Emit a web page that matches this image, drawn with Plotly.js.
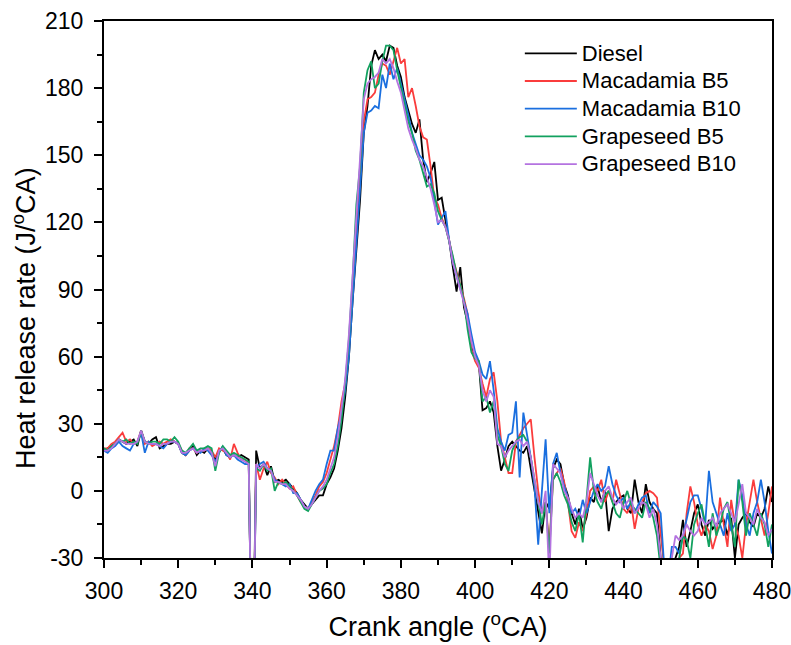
<!DOCTYPE html>
<html>
<head>
<meta charset="utf-8">
<script src="https://cdn.plot.ly/plotly-3.0.1.min.js"></script>
<style>html,body{margin:0;padding:0;background:#fff;}#chart{width:791px;height:645px;}</style>
</head>
<body>
<div id="chart"></div>
<script>
// Crank angle axis: 300 to 480 deg, one value per degree
const angleStart = 300;
const angleStep = 1;

const seriesNames = ["Diesel", "Macadamia B5", "Macadamia B10", "Grapeseed B5", "Grapeseed B10"];
const seriesColors = ["#000000", "#FA3C3C", "#1A6FDF", "#12A15F", "#B473E0"];

const xTickVals = [300, 320, 340, 360, 380, 400, 420, 440, 460, 480];
const xTickText = ["300", "320", "340", "360", "380", "400", "420", "440", "460", "480"];
const xMinorVals = [310, 330, 350, 370, 390, 410, 430, 450, 470];
const yTickVals = [-30, 0, 30, 60, 90, 120, 150, 180, 210];
const yTickText = ["-30", "0", "30", "60", "90", "120", "150", "180", "210"];
const yMinorVals = [-15, 15, 45, 75, 105, 135, 165, 195];

const xTitle = "Crank angle (<sup>o</sup>CA)";
const yTitle = "Heat release rate (J/<sup>o</sup>CA)";

const diesel = [
  18,19,20,21,23,22,21,22,23,20,
  27,22,21,23,24,19,20,21,21,22,
  21,17,16,18,20,16,18,17,19,17,
  14,18,19,16,15,16,15,16,15,14,
  -100,18,10,12,7,11,4,5,4,5,
  3,1,-1,-4,-6,-8,-6,-4,-2,-2,
  3,6,10,18,28,42,60,85,110,130,
  160,172,190,197,193,195,192,199,198,190,
  185,176,170,164,160,166,148,138,142,147,
  130,131,121,112,100,89,100,82,75,65,
  60,57,36,37,40,35,20,9,14,20,
  22,20,18,17,20,10,0,-10,-19,-5,
  -8,10,14,12,3,-2,-10,-15,-8,-17,
  -12,-3,-5,2,-5,0,-18,-8,-5,-3,
  -2,-8,-10,5,-5,-10,3,-5,-8,-10,
  -30,-40,-38,-35,-30,-25,-13,-25,-18,-10,
  -6,-15,-20,-13,-17,-15,-14,-13,-20,-12,
  -30,-15,-12,-10,-14,-16,-10,-12,-8,2,-5
];

const macadamiaB5 = [
  19,19,21,22,24,26,22,23,21,22,
  27,21,22,20,21,22,21,22,23,22,
  21,18,16,19,19,17,18,18,19,18,
  15,19,18,17,14,21,17,14,14,12,
  -100,12,5,10,13,8,6,3,5,3,
  1,2,-2,-5,-7,-8,-5,-2,2,4,
  8,14,20,28,40,48,65,90,115,140,
  165,175,176,178,186,191,190,186,192,198,
  191,193,176,180,172,163,158,157,145,131,
  128,122,118,112,104,98,93,86,79,63,
  58,55,48,42,50,53,40,22,15,8,
  8,22,25,28,30,32,15,0,-10,-5,
  -25,5,8,10,4,-5,-18,-21,-14,-18,
  -10,0,2,0,5,-5,0,-5,5,-2,
  -8,-10,-5,-17,-8,-5,-1,0,-1,-3,
  -20,-35,-40,-35,-32,-30,-28,-10,2,-5,
  -15,-20,-15,-18,-26,-20,-3,-15,-25,-4,
  -15,-20,-30,-15,-5,5,-5,-12,-20,-10,2
];

const macadamiaB10 = [
  18,17,19,20,22,20,19,18,21,22,
  26,17,22,21,21,20,19,21,22,22,
  21,17,16,18,19,18,17,19,18,16,
  13,17,20,16,15,16,14,13,12,12,
  -100,10,12,13,10,9,5,4,3,2,
  3,-1,-1,-4,-7,-8,-4,0,3,5,
  12,18,18,28,35,45,60,85,110,138,
  160,169,170,172,171,186,180,191,184,189,
  182,176,168,160,155,150,148,145,140,130,
  119,122,125,112,102,96,90,84,79,70,
  62,58,52,50,58,45,28,22,18,25,
  26,40,6,35,25,15,2,-24,0,23,
  -10,12,17,8,2,-3,-10,-8,-12,-4,
  -10,-5,0,3,0,2,11,3,-2,-5,
  -3,-8,-5,-10,-6,-3,-2,-10,-5,-7,
  -10,-35,-40,-25,-25,-28,-20,-12,-5,-2,
  -2,-8,-15,9,-5,-10,-15,-20,-10,-18,
  -15,5,-2,-15,-20,-10,-5,5,-5,-18,-28
];

const grapeseedB5 = [
  19,18,20,21,23,22,23,21,22,21,
  27,22,21,22,22,21,23,23,22,24,
  22,18,17,19,21,18,19,19,20,19,
  9,17,20,18,16,17,16,15,14,13,
  -100,10,9,12,9,10,0,4,3,4,
  2,0,-2,-5,-8,-9,-6,-3,0,1,
  3,8,12,20,32,48,68,95,128,145,
  178,188,192,180,182,192,199,199,197,188,
  180,172,165,160,152,148,142,136,137,133,
  125,121,118,112,105,97,92,85,72,62,
  59,58,40,42,35,40,25,20,12,9,
  18,22,24,25,22,15,5,-5,-15,-5,
  -28,5,8,4,-2,-6,-14,-18,-10,-23,
  -5,15,0,-5,-8,-2,0,-5,-10,-12,
  -5,0,-6,-8,-10,-12,-5,-8,-12,-20,
  -35,-40,-38,-35,-35,-30,-20,-22,-30,-15,
  -10,-6,-15,-25,-10,-20,-15,-8,-5,-15,
  -25,5,-5,-20,-10,-15,-20,-10,-15,-25,-15
];

const grapeseedB10 = [
  18,18,19,21,23,22,21,21,21,22,
  27,22,21,21,21,20,21,21,22,22,
  21,17,17,18,19,17,18,18,19,17,
  11,18,19,17,15,16,15,14,13,12,
  -100,12,10,12,10,9,4,4,3,3,
  1,0,-2,-4,-7,-8,-6,-3,0,2,
  5,10,15,24,36,50,70,95,125,150,
  175,182,184,185,187,193,191,193,189,183,
  178,170,162,157,153,148,145,140,135,128,
  120,121,118,112,102,96,90,84,76,67,
  60,56,45,40,45,42,21,20,15,18,
  20,22,23,20,22,15,5,-5,-10,0,
  -40,12,10,8,0,-3,-8,-12,-10,-12,
  -5,8,3,-2,-5,0,2,-3,-6,-4,
  -8,-5,-3,-10,-8,-5,-6,-12,-8,-15,
  -30,-40,-38,-30,-20,-22,-20,-15,-18,-20,
  -18,-12,-15,-14,-12,-16,-10,-8,-6,-10,
  -14,-6,3,-10,-12,-15,-8,-12,-14,-20,-17
];

const seriesValues = [diesel, macadamiaB5, macadamiaB10, grapeseedB5, grapeseedB10];

const traces = seriesValues.map((vals, i) => ({
  type: 'scatter',
  mode: 'lines',
  name: '<span style="font-size:22px">' + seriesNames[i] + '</span>',
  x0: angleStart,
  dx: angleStep,
  y: vals,
  line: {color: seriesColors[i], width: 1.8},
  hoverinfo: 'x+y'
}));

const axisCommon = {
  showline: true, linewidth: 2, linecolor: '#000', mirror: true,
  showgrid: false, zeroline: false,
  ticks: 'outside', ticklen: 8, tickwidth: 2, tickcolor: '#000',
  tickfont: {size: 23, color: '#000'},
  tickmode: 'array',
  ticklabeloverflow: 'allow',
  automargin: false
};

const layout = {
  width: 791, height: 645,
  margin: {l: 104, r: 19, t: 21, b: 87, pad: 0},
  paper_bgcolor: '#fff', plot_bgcolor: '#fff',
  font: {family: 'Liberation Sans, Arial, sans-serif', color: '#000'},
  showlegend: true,
  xaxis: Object.assign({}, axisCommon, {
    range: [300, 480], tickvals: xTickVals, ticktext: xTickText,
    ticklabelstandoff: 3,
    minor: {tickmode: 'array', tickvals: xMinorVals, ticks: 'outside', ticklen: 5, tickwidth: 2, tickcolor: '#000', showgrid: false},
    title: {text: xTitle, font: {size: 27, color: '#000'}, standoff: 15}
  }),
  yaxis: Object.assign({}, axisCommon, {
    range: [-30, 210], tickvals: yTickVals, ticktext: yTickText,
    ticklabelstandoff: 6,
    minor: {tickmode: 'array', tickvals: yMinorVals, ticks: 'outside', ticklen: 5, tickwidth: 2, tickcolor: '#000', showgrid: false},
    title: {text: ''}
  }),
  annotations: [{
    text: yTitle, textangle: -90, showarrow: false,
    xref: 'paper', yref: 'paper', xanchor: 'center', yanchor: 'middle',
    x: (24 - 104) / 668, y: (558 - 318) / 537,
    font: {size: 27, color: '#000'}
  }],
  legend: {
    x: 0.6225, y: 0.975, xanchor: 'left', yanchor: 'top',
    font: {size: 19, color: '#000'},
    bgcolor: 'rgba(0,0,0,0)', borderwidth: 0,
    itemwidth: 52, tracegroupgap: 0
  }
};

Plotly.newPlot('chart', traces, layout, {displayModeBar: false, staticPlot: true});
</script>
</body>
</html>
